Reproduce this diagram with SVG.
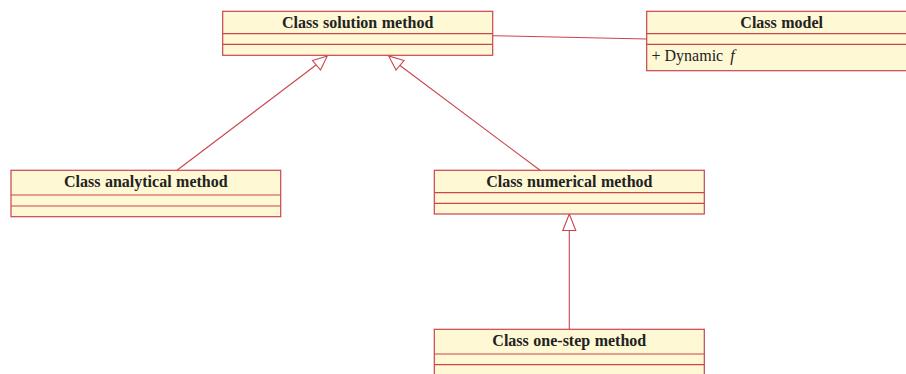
<svg xmlns="http://www.w3.org/2000/svg" width="906" height="374" viewBox="0 0 906 374">
  <style>
    .box { fill: #fef8d4; stroke: #c9444e; stroke-width: 1.2; }
    .sep { stroke: #c9444e; stroke-width: 1.2; fill: none; }
    .title { font-family: "Liberation Serif", "Times New Roman", serif; font-weight: bold; font-size: 16px; fill: #222; text-anchor: middle; word-spacing: 0.5px; }
    .attr { font-family: "Liberation Serif", "Times New Roman", serif; font-size: 16px; fill: #222; }
    .link { stroke: #c9444e; stroke-width: 1.1; fill: none; }
    .head { fill: #ffffff; stroke: #c9444e; stroke-width: 1.1; }
  </style>

  <!-- connectors: generalisation arrows and association -->
  <g id="connectors">
    <line class="link" x1="492.7" y1="35.7" x2="646.7" y2="39"/>
    <line class="link" x1="177" y1="170.3" x2="320" y2="62"/>
    <polygon class="head" points="327.3,56 312.5,60.5 320.5,70"/>
    <line class="link" x1="540" y1="170.3" x2="398" y2="64"/>
    <polygon class="head" points="388.7,56 396,70 404,60.5"/>
    <line class="link" x1="569.3" y1="230.5" x2="569.3" y2="329.3"/>
    <polygon class="head" points="569.3,214 562.8,230.5 575.8,230.5"/>
  </g>

  <g id="solution-method">
    <rect class="box" x="222.7" y="11.3" width="270" height="44"/>
    <line class="sep" x1="222.7" y1="33.7" x2="492.7" y2="33.7"/>
    <line class="sep" x1="222.7" y1="44.3" x2="492.7" y2="44.3"/>
    <text class="title" x="357.7" y="28.2">Class solution method</text>
  </g>

  <g id="model">
    <rect class="box" x="646.7" y="11.3" width="270" height="59.4"/>
    <line class="sep" x1="646.7" y1="33.7" x2="916.7" y2="33.7"/>
    <line class="sep" x1="646.7" y1="44.3" x2="916.7" y2="44.3"/>
    <text class="title" x="781.7" y="28.2">Class model</text>
    <text class="attr" x="651.5" y="61.2">+ Dynamic <tspan font-style="italic" dx="3">f</tspan></text>
  </g>

  <g id="analytical-method">
    <rect class="box" x="11" y="170.3" width="269.7" height="46.4"/>
    <line class="sep" x1="11" y1="195" x2="280.7" y2="195"/>
    <line class="sep" x1="11" y1="206" x2="280.7" y2="206"/>
    <text class="title" x="145.8" y="187">Class analytical method</text>
  </g>

  <g id="numerical-method">
    <rect class="box" x="434.3" y="170.3" width="270" height="43.7"/>
    <line class="sep" x1="434.3" y1="192.7" x2="704.3" y2="192.7"/>
    <line class="sep" x1="434.3" y1="203.3" x2="704.3" y2="203.3"/>
    <text class="title" x="569.3" y="187">Class numerical method</text>
  </g>

  <g id="one-step-method">
    <rect class="box" x="434.3" y="329.3" width="270" height="60"/>
    <line class="sep" x1="434.3" y1="354" x2="704.3" y2="354"/>
    <line class="sep" x1="434.3" y1="364.7" x2="704.3" y2="364.7"/>
    <text class="title" x="569.3" y="346.2">Class one-step method</text>
  </g>
</svg>
